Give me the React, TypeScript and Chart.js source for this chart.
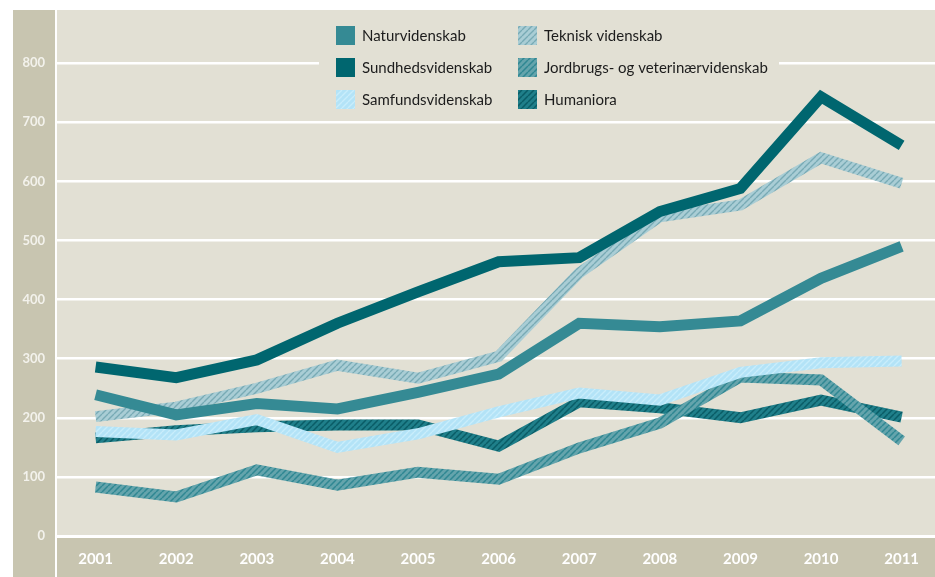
import React, { useEffect, useRef } from 'react';
import { Chart, registerables } from 'chart.js';

Chart.register(...registerables);

// ---------- data ----------
const years = ['2001', '2002', '2003', '2004', '2005', '2006', '2007', '2008', '2009', '2010', '2011'];
const naturvidenskab = [239, 205, 224, 215, 243, 274, 360, 354, 364, 436, 490];
const sundhedsvidenskab = [286, 268, 298, 360, 413, 464, 471, 549, 588, 743, 661];
const samfundsvidenskab = [177, 171, 197, 150, 173, 210, 242, 230, 277, 293, 296];
const tekniskVidenskab = [202, 218, 250, 289, 267, 304, 445, 540, 560, 640, 597];
const jordbrugsVeterinaer = [83, 66, 112, 86, 108, 96, 149, 191, 269, 264, 161];
const humaniora = [166, 178, 185, 188, 188, 152, 227, 217, 200, 230, 201];
const yTicks = [0, 100, 200, 300, 400, 500, 600, 700, 800];

const seriesLabels = [
  'Naturvidenskab',
  'Sundhedsvidenskab',
  'Samfundsvidenskab',
  'Teknisk videnskab',
  'Jordbrugs- og veterinærvidenskab',
  'Humaniora',
];

const PLOT_BG = '#e2e0d4';
const BAND_BG = '#c8c5b0';
const FONT = 'Lato';

function makePattern(bg: string, stripe: string, size = 6, lw = 1.6): CanvasPattern | string {
  const c = document.createElement('canvas');
  c.width = size;
  c.height = size;
  const ctx = c.getContext('2d');
  if (!ctx) return bg;
  ctx.fillStyle = bg;
  ctx.fillRect(0, 0, size, size);
  ctx.strokeStyle = stripe;
  ctx.lineWidth = lw;
  ctx.beginPath();
  for (const k of [-size, 0, size]) {
    ctx.moveTo(k, size);
    ctx.lineTo(k + size, 0);
  }
  ctx.stroke();
  const p = ctx.createPattern(c, 'repeat');
  return p || bg;
}

const backgroundPlugin = {
  id: 'bgBands',
  beforeDraw(chart: any) {
    const { ctx, width, height, chartArea } = chart;
    ctx.save();
    ctx.fillStyle = '#ffffff';
    ctx.fillRect(0, 0, width, height);
    // left axis band
    ctx.fillStyle = BAND_BG;
    ctx.fillRect(13, chartArea.top, chartArea.left - 2 - 13, height - chartArea.top);
    // plot background
    ctx.fillStyle = PLOT_BG;
    ctx.fillRect(chartArea.left, chartArea.top, chartArea.right - chartArea.left, chartArea.bottom - chartArea.top);
    // bottom axis band
    ctx.fillStyle = BAND_BG;
    ctx.fillRect(chartArea.left, chartArea.bottom + 2, chartArea.right - chartArea.left, height - chartArea.bottom - 2);
    ctx.restore();
  },
  beforeDatasetsDraw(chart: any) {
    const { ctx } = chart;
    ctx.save();
    ctx.fillStyle = PLOT_BG;
    ctx.fillRect(319, chart.chartArea.top, 779 - 319, 117 - chart.chartArea.top);
    ctx.restore();
  },
  afterDraw(chart: any) {
    const { ctx } = chart;
    const ds = chart.data.datasets;
    const cols = [336, 518];
    const rows = [26, 58, 90];
    ctx.save();
    ctx.font = `15px ${FONT}`;
    ctx.textBaseline = 'middle';
    ctx.textAlign = 'left';
    for (let i = 0; i < ds.length; i++) {
      const col = Math.floor(i / 3);
      const row = i % 3;
      const x = cols[col];
      const y = rows[row];
      ctx.fillStyle = ds[i].legendFill || ds[i].borderColor;
      ctx.fillRect(x, y, 19, 19);
      ctx.fillStyle = '#1c1c1c';
      ctx.fillText(ds[i].label, x + 26, y + 10);
    }
    ctx.restore();
  },
};

export default function App() {
  const ref = useRef<HTMLCanvasElement | null>(null);

  useEffect(() => {
    const canvas = ref.current;
    if (!canvas) return;

    const toPts = (arr: number[]) => arr.map((v, i) => ({ x: i, y: v }));

    const natColor = '#358a94';
    const sunColor = '#00666f';
    const samPat = makePattern('#b3e3f7', '#c9edfb', 6, 1.4);
    const tekPat = makePattern('#a9cdd5', '#78aab5', 6, 1.4);
    const jorPat = makePattern('#64a4ac', '#2f8792', 6, 1.5);
    const humPat = makePattern('#1f7f8a', '#0a5c66', 6, 1.5);

    const common = {
      borderWidth: 11,
      pointRadius: 0,
      tension: 0,
      fill: false,
      borderJoinStyle: 'miter',
      borderCapStyle: 'butt',
    };

    const chart = new Chart(canvas, {
      type: 'line',
      plugins: [backgroundPlugin],
      data: {
        datasets: [
          { ...common, label: seriesLabels[0], data: toPts(naturvidenskab), borderColor: natColor, legendFill: natColor, order: 2 },
          { ...common, label: seriesLabels[1], data: toPts(sundhedsvidenskab), borderColor: sunColor, legendFill: sunColor, order: 1 },
          { ...common, label: seriesLabels[2], data: toPts(samfundsvidenskab), borderColor: samPat, legendFill: samPat, order: 3 },
          { ...common, label: seriesLabels[3], data: toPts(tekniskVidenskab), borderColor: tekPat, legendFill: tekPat, order: 6 },
          { ...common, label: seriesLabels[4], data: toPts(jordbrugsVeterinaer), borderColor: jorPat, legendFill: jorPat, order: 4 },
          { ...common, label: seriesLabels[5], data: toPts(humaniora), borderColor: humPat, legendFill: humPat, order: 5 },
        ] as any,
      },
      options: {
        animation: false,
        responsive: false,
        maintainAspectRatio: false,
        layout: { padding: { top: 10, left: 0, right: 0, bottom: 0 } },
        plugins: { legend: { display: false }, tooltip: { enabled: false } },
        scales: {
          x: {
            type: 'linear',
            min: -0.479,
            max: 10.414,
            afterBuildTicks: (s: any) => {
              s.ticks = years.map((_, i) => ({ value: i }));
            },
            afterFit: (s: any) => {
              s.height = 41;
              s.paddingLeft = 0;
              s.paddingRight = 0;
              s.paddingTop = 0;
              s.paddingBottom = 0;
            },
            grid: { display: false },
            border: { display: false },
            ticks: {
              callback: (v: any) => years[v as number],
              color: '#ffffff',
              font: { family: FONT, size: 15, weight: 'bold' },
              padding: 6,
              autoSkip: false,
              maxRotation: 0,
            },
          },
          y: {
            min: 0,
            max: 890,
            afterBuildTicks: (s: any) => {
              s.ticks = yTicks.map((v) => ({ value: v }));
            },
            afterFit: (s: any) => {
              s.width = 57;
              s.paddingTop = 0;
              s.paddingBottom = 0;
              s.paddingLeft = 0;
              s.paddingRight = 0;
            },
            grid: { color: '#ffffff', lineWidth: 2.5, drawTicks: false },
            border: { display: false },
            ticks: {
              padding: 12,
              color: '#f3f2ec',
              font: { family: FONT, size: 13, weight: 'bold' },
            },
          },
        },
      } as any,
    });

    return () => chart.destroy();
  }, []);

  return (
    <div style={{ position: 'fixed', left: 0, top: 0, width: 935, height: 577, background: '#fff' }}>
      <canvas ref={ref} width={935} height={577} style={{ display: 'block', width: 935, height: 577 }} />
    </div>
  );
}
